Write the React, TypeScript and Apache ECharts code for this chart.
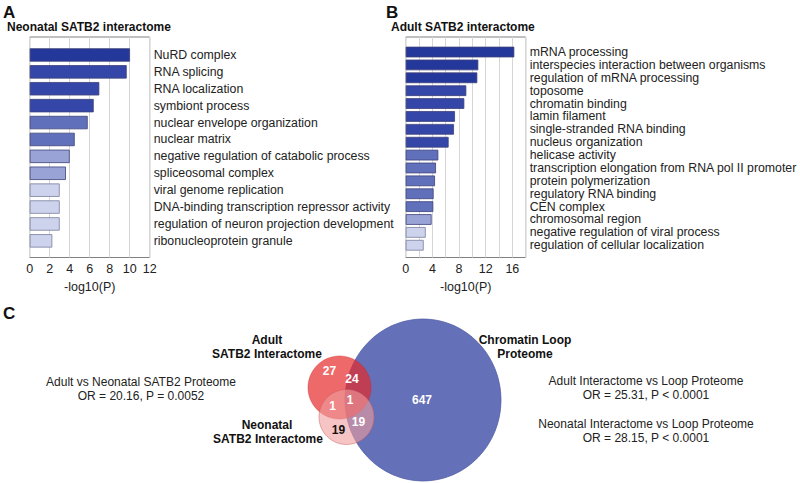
import React, { useEffect, useRef } from "react";
import * as echarts from "echarts";

// ---------- data ----------
const neonatalTerms = [
  "NuRD complex",
  "RNA splicing",
  "RNA localization",
  "symbiont process",
  "nuclear envelope organization",
  "nuclear matrix",
  "negative regulation of catabolic process",
  "spliceosomal complex",
  "viral genome replication",
  "DNA-binding transcription repressor activity",
  "regulation of neuron projection development",
  "ribonucleoprotein granule",
];
const neonatalValues = [10.03, 9.7, 6.96, 6.4, 5.8, 4.5, 4.0, 3.62, 3.0, 3.0, 3.0, 2.26];

const adultTerms = [
  "mRNA processing",
  "interspecies interaction between organisms",
  "regulation of mRNA processing",
  "toposome",
  "chromatin binding",
  "lamin filament",
  "single-stranded RNA binding",
  "nucleus organization",
  "helicase activity",
  "transcription elongation from RNA pol II promoter",
  "protein polymerization",
  "regulatory RNA binding",
  "CEN complex",
  "chromosomal region",
  "negative regulation of viral process",
  "regulation of cellular localization",
];
const adultValues = [16.29, 10.89, 10.74, 9.09, 8.79, 7.39, 7.24, 6.44, 4.89, 4.54, 4.39, 4.19, 4.14, 3.89, 3.0, 2.7];

const neonatalAxisMax = 12;
const adultAxisMax = 18;
const axisStep = 2;
const adultLabelStep = 4;
const axisName = "-log10(P)";

const vennSets = ["Adult\nSATB2 Interactome", "Neonatal\nSATB2 Interactome", "Chromatin Loop\nProteome"];
const vennRegions = ["adultOnly", "adultLoop", "adultNeo", "all", "neoOnly", "neoLoop", "loopOnly"];
const vennCounts = [27, 24, 1, 1, 19, 19, 647];

const statsLeft = ["Adult vs Neonatal SATB2 Proteome", "OR = 20.16, P = 0.0052"];
const statsRight = [
  "Adult Interactome vs Loop Proteome",
  "OR = 25.31, P < 0.0001",
  "Neonatal Interactome vs Loop Proteome",
  "OR = 28.15, P < 0.0001",
];

// ---------- styles / layout ----------
const FONT = '"Liberation Sans", Arial, Helvetica, sans-serif';
const binColor = (v: number) =>
  v >= 10 ? "#24379a" : v >= 6 ? "#3446a8" : v >= 4.05 ? "#6170bb" : v >= 3.2 ? "#9aa3d6" : "#cdd3ed";

const regionPos: Record<string, [number, number]> = {
  adultOnly: [329.5, 371],
  adultLoop: [352, 379],
  adultNeo: [332.5, 406],
  all: [350, 400],
  neoOnly: [338.5, 430],
  neoLoop: [358.5, 422],
  loopOnly: [422, 399.5],
};

export default function App() {
  const ref = useRef<HTMLDivElement>(null);
  useEffect(() => {
    if (!ref.current) return;
    const chart = echarts.init(ref.current, undefined, { renderer: "svg" });

    const frameX = (gi: number, max: number, labelStep: number) => ({
      gridIndex: gi,
      type: "value",
      min: 0,
      max,
      interval: axisStep,
      axisLine: { show: false },
      axisTick: { show: false },
      splitLine: { show: true, lineStyle: { color: "#d6d6d6", width: 1 } },
      axisLabel: {
        fontSize: 12.5,
        color: "#222",
        fontFamily: FONT,
        margin: 5,
        formatter: (v: number) => (v % labelStep === 0 ? String(v) : ""),
      },
      name: axisName,
      nameLocation: "middle",
      nameGap: 23,
      nameTextStyle: { fontSize: 12.5, color: "#222", fontFamily: FONT },
    });
    const hiddenX = (gi: number, max: number) => ({ gridIndex: gi, type: "value", min: 0, max, show: false });
    const catY = (gi: number, terms: string[]) => ({
      gridIndex: gi,
      type: "category",
      data: terms,
      inverse: true,
      position: "right",
      axisLine: { show: false },
      axisTick: { show: false },
      axisLabel: { fontSize: 12.3, color: "#222", fontFamily: FONT, margin: 4, interval: 0 },
    });
    const barData = (vals: number[]) =>
      vals.map((v) => ({
        value: v,
        itemStyle: { color: binColor(v), borderColor: v < 3.2 ? "#7a7f9c" : "#3e4378", borderWidth: 0.8 },
      }));

    const text = (t: string, x: number, y: number, font: string, align = "left", fill = "#111") => ({
      type: "text",
      x,
      y,
      style: { text: t, font, fill, textAlign: align, textVerticalAlign: "middle" },
      z: 100,
    });

    const setLines = vennSets.map((s) => s.split("\n"));
    const bold12 = `bold 12px ${FONT}`;
    const reg12 = `12px ${FONT}`;

    const graphics: any[] = [
      text("A", 3, 12, `bold 17px ${FONT}`),
      text("Neonatal SATB2 interactome", 7, 27, `bold 12px ${FONT}`),
      text("B", 386, 12, `bold 17px ${FONT}`),
      text("Adult SATB2 interactome", 391, 27, `bold 12px ${FONT}`),
      text("C", 3, 313, `bold 17px ${FONT}`),
      // venn shapes
      {
        type: "ellipse",
        shape: { cx: 423, cy: 400, rx: 78, ry: 81 },
        style: { fill: "#6470b8", stroke: "#5560aa", lineWidth: 0.8 },
        z: 10,
      },
      {
        type: "ellipse",
        shape: { cx: 339.5, cy: 387.5, rx: 31.5, ry: 31.5 },
        style: { fill: "rgba(231,42,42,0.7)", stroke: "rgba(200,40,40,0.5)", lineWidth: 0.8 },
        z: 11,
      },
      {
        type: "ellipse",
        shape: { cx: 346.5, cy: 417, rx: 27.5, ry: 27.5 },
        style: { fill: "rgba(240,157,157,0.6)", stroke: "rgba(200,90,90,0.6)", lineWidth: 0.8 },
        z: 12,
      },
      text(setLines[0][0], 267, 339.5, bold12, "center"),
      text(setLines[0][1], 267, 353.5, bold12, "center"),
      text(setLines[1][0], 267, 425, bold12, "center"),
      text(setLines[1][1], 268, 438.5, bold12, "center"),
      text(setLines[2][0], 525, 339.5, bold12, "center"),
      text(setLines[2][1], 525, 353.5, bold12, "center"),
      text(statsLeft[0], 141, 382, reg12, "center", "#222"),
      text(statsLeft[1], 141, 396, reg12, "center", "#222"),
      text(statsRight[0], 646, 381, reg12, "center", "#222"),
      text(statsRight[1], 646, 395, reg12, "center", "#222"),
      text(statsRight[2], 646, 424, reg12, "center", "#222"),
      text(statsRight[3], 646, 437.5, reg12, "center", "#222"),
    ];
    vennRegions.forEach((r, i) => {
      const [x, y] = regionPos[r];
      graphics.push(text(String(vennCounts[i]), x, y, bold12, "center", r === "neoOnly" ? "#111" : "#ffffff"));
    });

    chart.setOption({
      animation: false,
      backgroundColor: "#ffffff",
      grid: [
        { left: 29.7, width: 120, top: 37, height: 220.5, show: true, borderColor: "#808080", borderWidth: 1, backgroundColor: "transparent" },
        { left: 29.7, width: 120, top: 46.5, height: 202.8 },
        { left: 405.7, width: 120, top: 37, height: 220.5, show: true, borderColor: "#808080", borderWidth: 1, backgroundColor: "transparent" },
        { left: 405.7, width: 120, top: 45.6, height: 206.1 },
      ],
      xAxis: [
        frameX(0, neonatalAxisMax, axisStep),
        hiddenX(1, neonatalAxisMax),
        frameX(2, adultAxisMax, adultLabelStep),
        hiddenX(3, adultAxisMax),
      ],
      yAxis: [
        { gridIndex: 0, type: "value", show: false },
        catY(1, neonatalTerms),
        { gridIndex: 2, type: "value", show: false },
        catY(3, adultTerms),
      ],
      series: [
        { type: "bar", xAxisIndex: 1, yAxisIndex: 1, data: barData(neonatalValues), barWidth: 13.4 },
        { type: "bar", xAxisIndex: 3, yAxisIndex: 3, data: barData(adultValues), barWidth: 10.7 },
      ],
      graphic: graphics,
    });
    return () => chart.dispose();
  }, []);
  return <div ref={ref} style={{ position: "fixed", left: 0, top: 0, width: 800, height: 483 }} />;
}
